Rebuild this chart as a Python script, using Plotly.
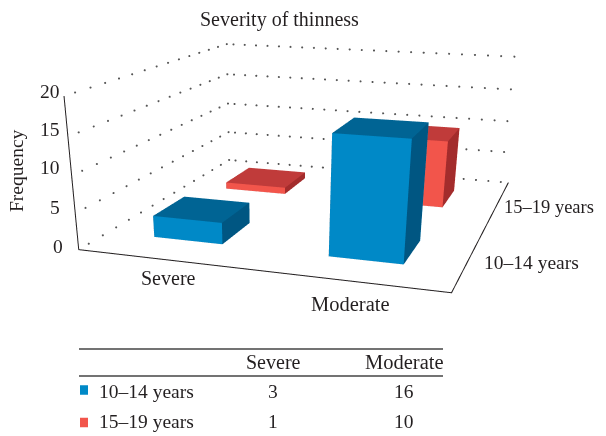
import numpy as np
import plotly.graph_objects as go

categories = ["Severe", "Moderate"]
series_names = ["10–14 years", "15–19 years"]
values_10_14 = [3, 16]
values_15_19 = [1, 10]
z_ticks = [0, 5, 10, 15, 20]

# The figure is taller than the window on purpose: plotly's fixed field of view
# needs this viewport height to give the reference's weak perspective.
W, H = 598, 800
OFF = 8  # the page's default body margin

eye = dict(x=0.8078, y=-2.7366, z=0.6119)
center = dict(x=0.0723, y=-0.6133, z=-0.5489)
up = dict(x=-0.0096, y=-0.0034, z=1)
aspect = dict(x=1.0, y=1.1023, z=0.397)

# bar footprint on the floor: x centre, y centre, half width, half depth
foot_10_14 = [(0.489, 0.500, 0.204, 0.193), (1.497, 0.493, 0.200, 0.193)]
foot_15_19 = [(0.481, 1.503, 0.202, 0.194), (1.493, 1.515, 0.200, 0.190)]

blue = ("#0089C7", "#006494", "#005682")
red = ("#F2554B", "#C03B3A", "#A32C2C")
INK = "#231F20"


def box_mesh(foot, h, cols):
    x, y, wx, wy = foot
    x0, x1 = x - wx, x + wx
    y0, y1 = y - wy, y + wy
    vx = [x0, x1, x1, x0, x0, x1, x1, x0]
    vy = [y0, y0, y1, y1, y0, y0, y1, y1]
    vz = [0, 0, 0, 0, h, h, h, h]
    i = [0, 0, 4, 4, 1, 1, 0, 0, 3, 3, 0, 0]
    j = [1, 2, 5, 6, 2, 6, 1, 5, 2, 6, 3, 7]
    k = [2, 3, 6, 7, 6, 5, 5, 4, 6, 7, 7, 4]
    fc = [cols[2]] * 2 + [cols[1]] * 2 + [cols[2]] * 2 + [cols[0]] * 2 + [cols[0]] * 2 + [cols[2]] * 2
    return go.Mesh3d(x=vx, y=vy, z=vz, i=i, j=j, k=k, facecolor=fc, flatshading=True, hoverinfo="skip",
                     lighting=dict(ambient=1, diffuse=0, specular=0, roughness=1, fresnel=0))


fig = go.Figure()
for foot, v in zip(foot_15_19, values_15_19):
    fig.add_trace(box_mesh(foot, v, red))
for foot, v in zip(foot_10_14, values_10_14):
    fig.add_trace(box_mesh(foot, v, blue))
for z in z_ticks:
    ys = np.linspace(0.1, 2, 14)
    xs = np.linspace(0.05, 1.95, 24)
    fig.add_trace(go.Scatter3d(x=list(0 * ys) + list(xs), y=list(ys) + list(0 * xs + 2), z=[z] * (len(ys) + len(xs)),
                               mode="markers", marker=dict(size=1.2, color="#555555"), hoverinfo="skip"))
fig.add_trace(go.Scatter3d(x=[0, 0, 2, 2], y=[0, 0, 0, 2], z=[20, 0, 0, 0], mode="lines",
                           line=dict(color=INK, width=2), hoverinfo="skip"))

ax = dict(visible=False, showgrid=False, zeroline=False, showbackground=False)
fig.update_layout(
    width=W, height=H, margin=dict(l=0, r=0, t=0, b=0), showlegend=False, paper_bgcolor="white",
    scene=dict(domain=dict(x=[0, 0.88623], y=[0, 1]),
               xaxis=dict(range=[0, 2], **ax), yaxis=dict(range=[0, 2], **ax), zaxis=dict(range=[0, 20], **ax),
               aspectmode="manual", aspectratio=aspect,
               camera=dict(eye=eye, center=center, up=up, projection=dict(type="perspective"))))


def X(v):
    return (v - OFF) / W


def Y(v):
    return 1 - (v - OFF) / H


def label(t, x, y, anchor="center", angle=0, size=19.5):
    fig.add_annotation(text=t, x=X(x), y=Y(y), xref="paper", yref="paper", xanchor=anchor, yanchor="middle",
                       showarrow=False, textangle=angle, font=dict(family="Liberation Serif", size=size, color=INK))


label("Severity of thinness", 279, 19, size=20)
label("Frequency", 16, 171, angle=-90)
for t, y in zip(z_ticks, [246, 207, 168, 130, 92]):
    label(str(t), 62 if t else 65, y, "right")
label(categories[0], 168, 278, size=20)
label(categories[1], 351, 304, size=20.5)
label(series_names[0], 531, 263)
label(series_names[1], 596, 207, "right", size=18.5)
for y in (349, 376):
    fig.add_shape(type="line", xref="paper", yref="paper", x0=X(79), x1=X(443), y0=Y(y), y1=Y(y),
                  line=dict(color="#444444", width=1.3))
label(categories[0], 273, 362, size=20)
label(categories[1], 404, 362, size=20.5)
rows = [(series_names[0], values_10_14, blue[0], 391, 390), (series_names[1], values_15_19, red[0], 422, 422.5)]
for nm, vals, col, y, ym in rows:
    fig.add_shape(type="rect", xref="paper", yref="paper", x0=X(80), x1=X(88), y0=Y(ym + 4.75), y1=Y(ym - 4.75),
                  fillcolor=col, line_width=0)
    label(nm, 97, y, "left")
    label(str(vals[0]), 273, y)
    label(str(vals[1]), 404, y)

fig.write_html("out.html", config=dict(displayModeBar=False))
